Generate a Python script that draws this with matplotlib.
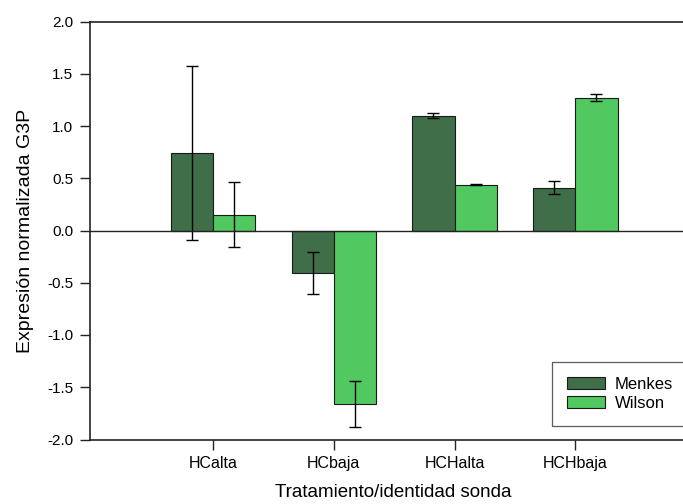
import matplotlib
matplotlib.use("Agg")
import matplotlib.pyplot as plt
import numpy as np

categories = ["HCalta", "HCbaja", "HCHalta", "HCHbaja"]
menkes = [0.74, -0.41, 1.10, 0.41]
menkes_err = [0.83, 0.20, 0.02, 0.06]
wilson = [0.15, -1.66, 0.44, 1.27]
wilson_err = [0.31, 0.22, 0.005, 0.035]
series_names = ["Menkes", "Wilson"]
yticks = [-2.0, -1.5, -1.0, -0.5, 0.0, 0.5, 1.0, 1.5, 2.0]

plt.rcParams['font.family'] = ['Liberation Sans', 'DejaVu Sans']

fig = plt.figure(figsize=(6.83, 5.04), dpi=100)
W, H = 683, 504
left, right, top, bottom = 90, 696, 21.5, 439.5
ax = fig.add_axes([left / W, 1 - bottom / H, (right - left) / W, (bottom - top) / H])

x = np.arange(1, len(categories) + 1)
bw = 0.35
c_menkes = "#3f6e48"
c_wilson = "#52c860"

ax.bar(x - bw / 2, menkes, bw, color=c_menkes, edgecolor="#1a1a1a", linewidth=0.8,
       yerr=menkes_err, capsize=4, error_kw=dict(elinewidth=1, capthick=1, ecolor="black"),
       label=series_names[0], zorder=2)
ax.bar(x + bw / 2, wilson, bw, color=c_wilson, edgecolor="#1a1a1a", linewidth=0.8,
       yerr=wilson_err, capsize=4, error_kw=dict(elinewidth=1, capthick=1, ecolor="black"),
       label=series_names[1], zorder=2)

ax.axhline(0, color="#222222", linewidth=1.0, zorder=3)

ax.set_xlim(-0.02, 5.0)
ax.set_ylim(-2.0, 2.0)
ax.set_yticks(yticks)
ax.set_yticklabels([f"{v:.1f}" for v in yticks], fontsize=11)
ax.set_xticks(x)
ax.set_xticklabels(categories, fontsize=11.5)
ax.tick_params(axis="both", direction="out", length=7, width=1, color="#222222")
ax.tick_params(axis="x", pad=5)
ax.tick_params(axis="y", pad=5)

for s in ["left", "top", "bottom"]:
    ax.spines[s].set_linewidth(1.2)
    ax.spines[s].set_color("#222222")
ax.spines["right"].set_visible(False)

ax.set_xlabel("Tratamiento/identidad sonda", fontsize=13.5)
ax.set_ylabel("Expresión normalizada G3P", fontsize=14)
ax.xaxis.set_label_coords(0.5, (bottom - 484) / (bottom - top))
ax.yaxis.set_label_coords((34 - left) / (right - left), 0.5)

leg = ax.legend(loc="upper left", bbox_to_anchor=(552 / W, 1 - 362 / H),
                bbox_transform=fig.transFigure, fontsize=12, frameon=True,
                fancybox=False, edgecolor="#333333", handlelength=2.3,
                handleheight=0.7, handletextpad=0.55, labelspacing=0.25,
                borderpad=0.9, borderaxespad=0)
leg.get_frame().set_linewidth(0.9)

fig.savefig("out.png", dpi=100)
